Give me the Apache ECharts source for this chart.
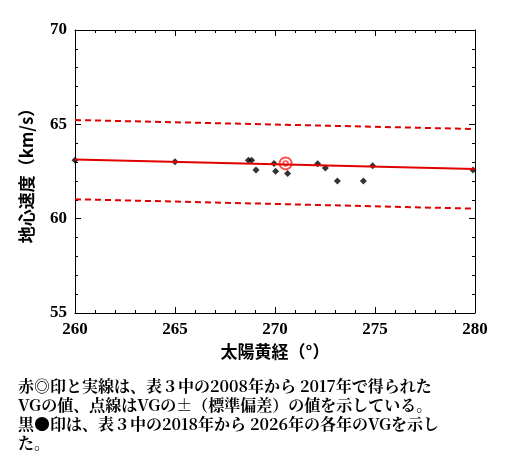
<!DOCTYPE html>
<html><head><meta charset="utf-8">
<script src="https://cdn.jsdelivr.net/npm/echarts@6/dist/echarts.min.js"></script>
<style>body{margin:0;background:#fff}#c{width:515px;height:465px}</style>
</head><body><div id="c"></div>
<script>
var points = [[260.0,63.1],[265.0,63.02],[268.67,63.1],[268.83,63.1],[269.05,62.58],[269.95,62.93],[270.03,62.51],[270.63,62.4],[272.13,62.91],[272.52,62.68],[273.12,62.0],[274.42,62.0],[274.88,62.81],[279.9,62.58]];
var mean = [[270.53,62.93]];
var fitLine = [[260,63.14],[280,62.63]];
var upperLine = [[260,65.23],[280,64.75]];
var lowerLine = [[260,61.03],[280,60.53]];
var captionLines = [
    '赤◎印と実線は、表３中の2008年から 2017年で得られた',
    'VGの値、点線はVGの±（標準偏差）の値を示している。',
    '黒●印は、表３中の2018年から 2026年の各年のVGを示し',
    'た。'
];

var myChart = echarts.init(document.getElementById('c'));
var serif = 'Liberation Serif, Noto Serif CJK JP, Noto Sans CJK JP';
var axisCommon = {
    axisLine: {lineStyle: {color: '#000', width: 1}},
    axisTick: {inside: true, length: 6, lineStyle: {color: '#000'}},
    minorTick: {show: true, splitNumber: 5, length: 3, lineStyle: {color: '#000'}},
    splitLine: {show: false},
    axisLabel: {color: '#000', fontFamily: serif, fontWeight: 'bold', fontSize: 17}
};
option = {
    animation: false,
    grid: {left: 75, right: 40, top: 30, bottom: 152},
    xAxis: [
        Object.assign({type: 'value', min: 260, max: 280, interval: 5,
            name: '太陽黄経（°）', nameLocation: 'middle', nameGap: 30,
            nameTextStyle: {color: '#000', fontSize: 17, fontFamily: 'Noto Sans CJK JP', fontWeight: 'bold'}}, axisCommon),
        Object.assign({}, axisCommon, {type: 'value', min: 260, max: 280, interval: 5, position: 'top', axisLabel: {show: false}})
    ],
    yAxis: [
        Object.assign({type: 'value', min: 55, max: 70, interval: 5,
            name: '地心速度（km/s）', nameLocation: 'middle', nameGap: 40,
            nameTextStyle: {color: '#000', fontSize: 17, fontFamily: 'Noto Sans CJK JP', fontWeight: 'bold'}}, axisCommon),
        Object.assign({}, axisCommon, {type: 'value', min: 55, max: 70, interval: 5, position: 'right', axisLabel: {show: false}})
    ],
    series: [
        {type: 'line', data: upperLine, symbol: 'none', lineStyle: {color: '#e00000', width: 2, type: [6, 4]}},
        {type: 'line', data: lowerLine, symbol: 'none', lineStyle: {color: '#e00000', width: 2, type: [6, 4]}},
        {type: 'line', data: fitLine, symbol: 'none', lineStyle: {color: '#e00000', width: 2}},
        {type: 'scatter', data: points, symbol: 'diamond', symbolSize: 7, itemStyle: {color: '#000'}},
        {type: 'scatter', data: mean, symbol: 'circle', symbolSize: 12, itemStyle: {color: 'transparent', borderColor: '#ff2020', borderWidth: 2}},
        {type: 'scatter', data: mean, symbol: 'circle', symbolSize: 5, itemStyle: {color: 'transparent', borderColor: '#ff2020', borderWidth: 1.5}}
    ],
    graphic: captionLines.map(function (t, i) {
        return {type: 'text', left: 18, top: 378 + i * 19,
            style: {text: t, fill: '#000', fontSize: 16, fontWeight: 'bold', fontFamily: 'Noto Serif CJK JP, Noto Sans CJK JP'}};
    })
};
myChart.setOption(option);
</script></body></html>
